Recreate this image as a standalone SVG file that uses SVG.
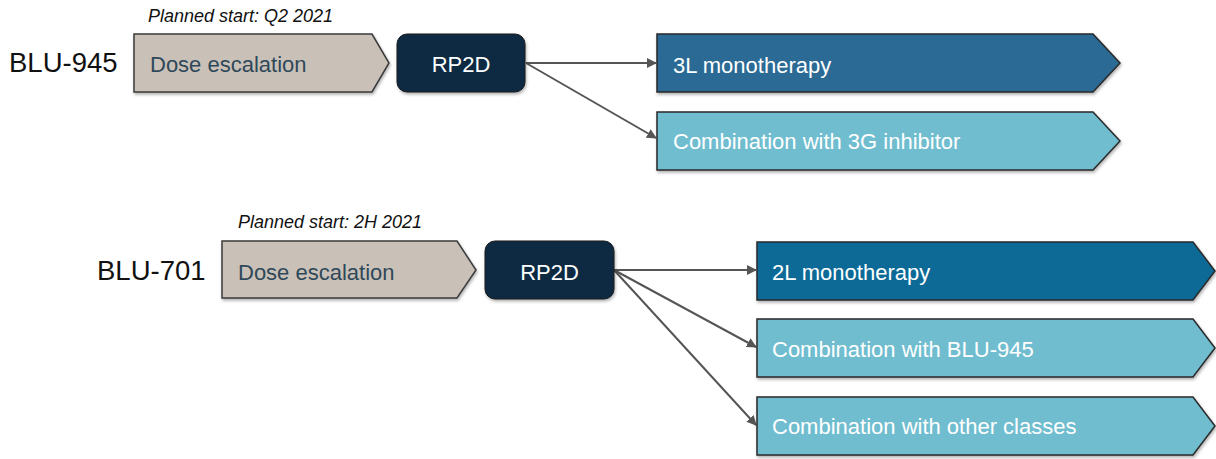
<svg xmlns="http://www.w3.org/2000/svg" width="1216" height="459" viewBox="0 0 1216 459">
<defs>
<filter id="sh" x="-5%" y="-10%" width="110%" height="130%">
<feDropShadow dx="1" dy="2" stdDeviation="1.5" flood-color="#000" flood-opacity="0.3"/>
</filter>
<marker id="ah" markerWidth="10" markerHeight="10" refX="9" refY="5" orient="auto" markerUnits="userSpaceOnUse">
<path d="M0,0 L10,5 L0,10 Z" fill="#555"/>
</marker>
<style>
.beige{fill:#c9c1b8;stroke:#3a3a3a;stroke-width:1.5;filter:url(#sh)}
.dark{fill:#0d2a42;stroke:#1a1a1a;stroke-width:1;filter:url(#sh)}
.blue3{fill:#2c6a94;stroke:#2a2a2a;stroke-width:1.5;filter:url(#sh)}
.blue2{fill:#0e6a97;stroke:#2a2a2a;stroke-width:1.5;filter:url(#sh)}
.teal{fill:#6fbdcf;stroke:#2a2a2a;stroke-width:1.5;filter:url(#sh)}
.t{font-family:"Liberation Sans",Arial,sans-serif;font-size:22px}
.tb{fill:#2f4858}
.tw{fill:#ffffff}
.big{font-family:"Liberation Sans",Arial,sans-serif;font-size:27.5px;fill:#111}
.plan{font-family:"Liberation Sans",Arial,sans-serif;font-size:18px;font-style:italic;fill:#111}
.con{stroke:#555;stroke-width:2;fill:none;marker-end:url(#ah)}
</style>
</defs>
<rect width="1216" height="459" fill="#ffffff"/>

<text class="plan" x="148" y="22">Planned start: Q2 2021</text>
<text class="big" x="9" y="72">BLU-945</text>
<text class="plan" x="238" y="228">Planned start: 2H 2021</text>
<text class="big" x="97" y="280">BLU-701</text>

<g id="connectors">
<line class="con" x1="526" y1="63" x2="656" y2="63"/>
<line class="con" x1="526" y1="63" x2="656" y2="138"/>
<line class="con" x1="614" y1="270" x2="756" y2="270"/>
<line class="con" x1="614" y1="270" x2="756" y2="347"/>
<line class="con" x1="614" y1="270" x2="756" y2="425"/>
</g>

<g id="dose945">
<path class="beige" d="M134,34 H372 L389,63 L372,92 H134 Z"/>
<text class="t tb" x="150" y="72">Dose escalation</text>
</g>
<g id="rp2d945">
<rect class="dark" x="397" y="34" width="128" height="58" rx="10"/>
<text class="t tw" x="461" y="72" text-anchor="middle">RP2D</text>
</g>
<g id="mono3l">
<path class="blue3" d="M657,34 H1093 L1120,63 L1093,92 H657 Z"/>
<text class="t tw" x="673" y="73">3L monotherapy</text>
</g>
<g id="combo3g">
<path class="teal" d="M657,112 H1093 L1120,141 L1093,170 H657 Z"/>
<text class="t tw" x="673" y="149">Combination with 3G inhibitor</text>
</g>

<g id="dose701">
<path class="beige" d="M222,241 H457 L476,270 L457,298 H222 Z"/>
<text class="t tb" x="238" y="280">Dose escalation</text>
</g>
<g id="rp2d701">
<rect class="dark" x="485" y="241" width="129" height="58" rx="10"/>
<text class="t tw" x="549.5" y="280" text-anchor="middle">RP2D</text>
</g>
<g id="mono2l">
<path class="blue2" d="M757,242 H1193 L1215,271 L1193,300 H757 Z"/>
<text class="t tw" x="772" y="280">2L monotherapy</text>
</g>
<g id="combo945">
<path class="teal" d="M757,319 H1193 L1215,348 L1193,377 H757 Z"/>
<text class="t tw" x="772" y="357">Combination with BLU-945</text>
</g>
<g id="comboOther">
<path class="teal" d="M757,397 H1193 L1215,426 L1193,455 H757 Z"/>
<text class="t tw" x="772" y="434">Combination with other classes</text>
</g>
</svg>
